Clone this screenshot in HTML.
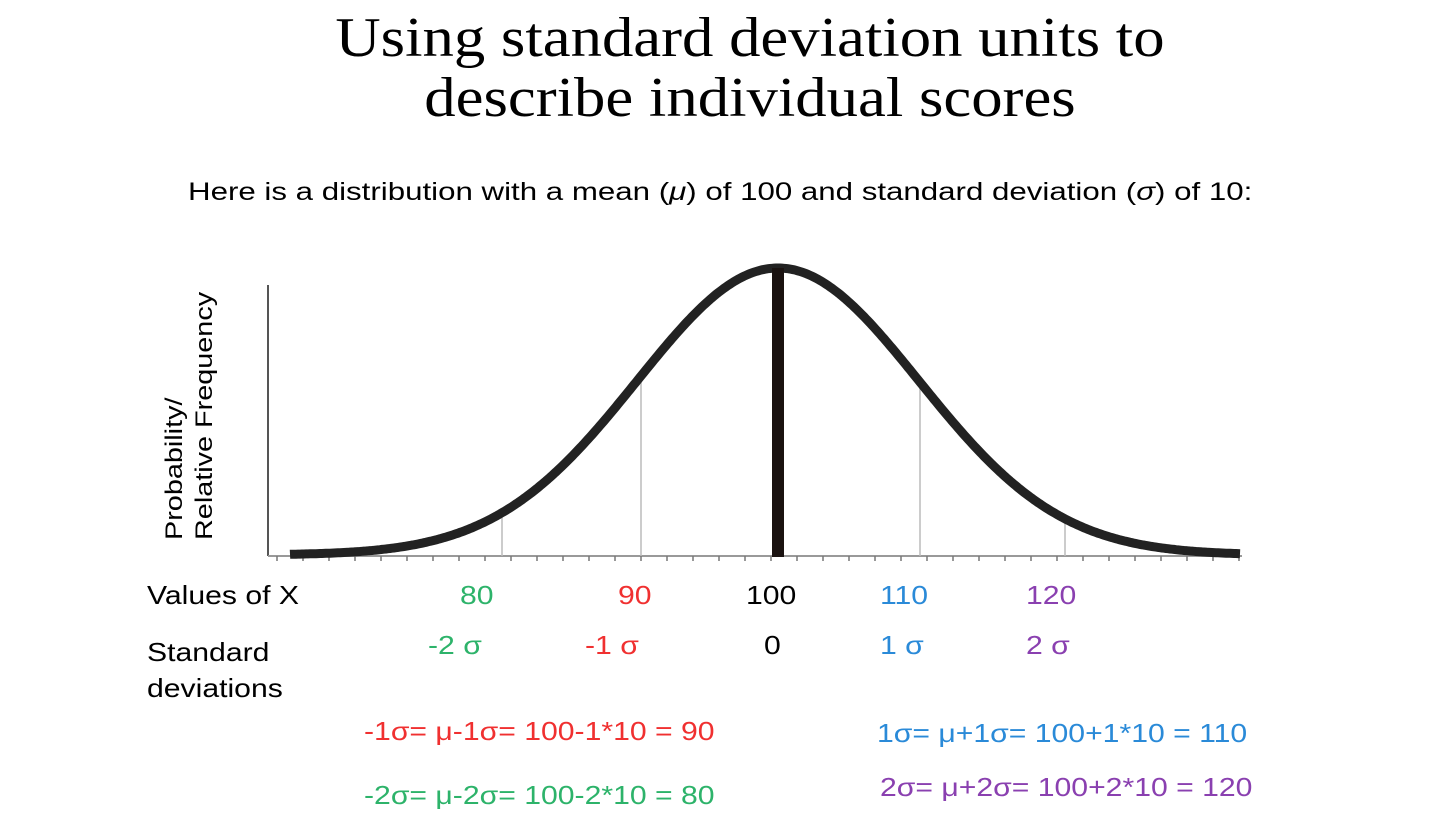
<!DOCTYPE html>
<html><head><meta charset="utf-8"><style>
body{margin:0;width:1440px;height:829px;background:#fff;overflow:hidden;position:relative;font-family:"Liberation Sans",sans-serif}
.t{position:absolute;white-space:nowrap}
.title{font-family:"Liberation Serif",serif;font-size:56px;left:0;width:1500px;text-align:center;line-height:60px;color:#000;transform:scaleX(1.12);transform-origin:750px 0}
.s{font-size:26px;transform:scaleX(1.16);transform-origin:0 0}
</style></head><body>
<div class="t title" style="top:8px">Using standard deviation units to<br>describe individual scores</div>
<div class="t" style="left:188px;top:178px;font-size:25px;transform:scaleX(1.25);transform-origin:0 0">Here is a distribution with a mean (<i>μ</i>) of 100 and standard deviation (<i>σ</i>) of 10:</div>
<div class="t" style="left:160px;top:540px;font-size:24px;transform:rotate(-90deg) scaleX(1.2);transform-origin:0 0;line-height:30px">Probability/<br>Relative Frequency</div>
<svg id="g" width="1440" height="829" style="position:absolute;left:0;top:0">
<line x1="268" y1="285" x2="268" y2="556" stroke="#555" stroke-width="2"/>
<line x1="268" y1="556" x2="1242" y2="556" stroke="#999" stroke-width="2"/>
</svg>
<div class="t s" style="left:147px;top:580px">Values of X</div>
<div class="t s" style="left:460px;top:580px;color:#2db36a">80</div>
<div class="t s" style="left:618px;top:580px;color:#f03030">90</div>
<div class="t s" style="left:746px;top:580px">100</div>
<div class="t s" style="left:880px;top:580px;color:#2a8ad8">110</div>
<div class="t s" style="left:1026px;top:580px;color:#8a40b0">120</div>
<div class="t s" style="left:147px;top:634px;line-height:36px">Standard<br>deviations</div>
<div class="t s" style="left:428px;top:630px;color:#2db36a">-2 σ</div>
<div class="t s" style="left:585px;top:630px;color:#f03030">-1 σ</div>
<div class="t s" style="left:764px;top:630px">0</div>
<div class="t s" style="left:880px;top:630px;color:#2a8ad8">1 σ</div>
<div class="t s" style="left:1026px;top:630px;color:#8a40b0">2 σ</div>
<div class="t s" style="left:364px;top:716px;color:#f03030">-1σ= μ-1σ= 100-1*10 = 90</div>
<div class="t s" style="left:364px;top:780px;color:#2db36a">-2σ= μ-2σ= 100-2*10 = 80</div>
<div class="t s" style="left:877px;top:718px;color:#2a8ad8">1σ= μ+1σ= 100+1*10 = 110</div>
<div class="t s" style="left:880px;top:772px;color:#8a40b0">2σ= μ+2σ= 100+2*10 = 120</div>
<script>
var g=document.getElementById('g'),ns='http://www.w3.org/2000/svg',mu=778,sd=141,b=555,h=287;
function y(x){return b-h*Math.exp(-0.5*Math.pow((x-mu)/sd,2));}
function L(x1,y1,x2,y2,c,w){var l=document.createElementNS(ns,'line');l.setAttribute('x1',x1);l.setAttribute('y1',y1);l.setAttribute('x2',x2);l.setAttribute('y2',y2);l.setAttribute('stroke',c);l.setAttribute('stroke-width',w);g.appendChild(l);}
[502,641,920,1065].forEach(function(x){L(x,y(x),x,556,'#bbb',1.5);});
for(var x=277;x<1240;x+=26)L(x,556,x,561,'#777',1.5);
var d='';for(var x=290;x<=1240;x+=2)d+=(x==290?'M':'L')+x+','+y(x).toFixed(1);
var p=document.createElementNS(ns,'path');p.setAttribute('d',d);p.setAttribute('fill','none');p.setAttribute('stroke','#222');p.setAttribute('stroke-width','9');g.appendChild(p);
L(778,268,778,557,'#1a1210',12);
</script>
</body></html>
